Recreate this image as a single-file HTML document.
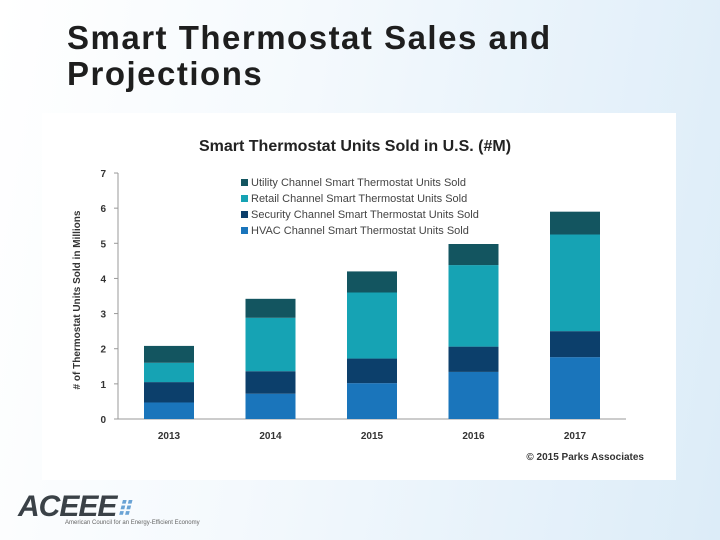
<!DOCTYPE html>
<html><head><meta charset="utf-8"><style>
body{margin:0;width:720px;height:540px;overflow:hidden;font-family:"Liberation Sans",sans-serif;background:linear-gradient(100deg,#ffffff 0%,#f4f9fd 40%,#dcecf8 100%);position:relative}
#title{position:absolute;left:67px;top:20px;font-size:33px;font-weight:bold;line-height:36px;color:#1e1e1e;letter-spacing:1.5px}
#panel{position:absolute;left:42px;top:113px;width:634px;height:367px;background:#fff}
</style></head><body>
<div id="title">Smart Thermostat Sales and<br>Projections</div>
<div id="panel"></div>
<svg id="chart" width="720" height="540" style="position:absolute;left:0;top:0"></svg>
<div style="position:absolute;left:18px;top:490px;font:bold italic 30px 'Liberation Sans',sans-serif;color:#3a4147;letter-spacing:-1px">ACEEE<span style="color:#6aa3d5;font-size:20px">⠿</span></div>
<div style="position:absolute;left:65px;top:520px;font-size:6px;color:#666">American Council for an Energy-Efficient Economy</div>
<script>
const years=["2013","2014","2015","2016","2017"];
const hvac=[0.47,0.72,1.02,1.34,1.76];
const security=[0.58,0.64,0.70,0.72,0.74];
const retail=[0.55,1.52,1.88,2.32,2.75];
const utility=[0.48,0.54,0.60,0.60,0.65];
const yTicks=[0,1,2,3,4,5,6,7];
const seriesNames=["Utility Channel Smart Thermostat Units Sold","Retail Channel Smart Thermostat Units Sold","Security Channel Smart Thermostat Units Sold","HVAC Channel Smart Thermostat Units Sold"];
const NS="http://www.w3.org/2000/svg";
const svg=document.getElementById('chart');
const y0=419,pu=35.14,x0=169,dx=101.5,bw=50;
const Y=v=>y0-v*pu, X=i=>x0+i*dx;
function mk(t,a,p){const e=document.createElementNS(NS,t);for(const k in a)e.setAttribute(k,a[k]);(p||svg).appendChild(e);return e;}
let t=mk('text',{x:355,y:151,'text-anchor':'middle','font-size':'16','font-weight':'bold',fill:'#222'});t.textContent="Smart Thermostat Units Sold in U.S. (#M)";


let ax=mk('line',{x1:118,y1:173,x2:118,y2:y0,stroke:'#999'});


let bx=mk('line',{x1:114,y1:y0,x2:626,y2:y0,stroke:'#999'});


yTicks.forEach(v=>{let tk=mk('text',{x:106,y:Y(v)+4,'text-anchor':'end','font-size':'10','font-weight':'bold',fill:'#333'});tk.textContent=v;


mk('line',{x1:114,y1:Y(v),x2:118,y2:Y(v),stroke:'#999'});});
let yt=mk('text',{transform:'translate(80,300) rotate(-90)','text-anchor':'middle','font-size':'10','font-weight':'bold',fill:'#333'});yt.textContent="# of Thermostat Units Sold in Millions";


const series=[[hvac,'#1a75bb','hvac'],[security,'#0c3f6b','security'],[retail,'#16a3b4','retail'],[utility,'#135560','utility']];
years.forEach((yr,i)=>{let base=0;series.forEach(s=>{const v=s[0][i];let r=mk('rect',{x:X(i)-bw/2,y:Y(base+v),width:bw,height:v*pu,fill:s[1]});


base+=v;});
let l=mk('text',{x:X(i),y:439,'text-anchor':'middle','font-size':'10','font-weight':'bold',fill:'#333'});l.textContent=yr;

});
const lc=['#135560','#16a3b4','#0c3f6b','#1a75bb'];
seriesNames.forEach((n,i)=>{const yy=186+i*16;let g=mk('g',{});


mk('rect',{x:241,y:yy-7,width:7,height:7,fill:lc[i]},g);let tx=mk('text',{x:251,y:yy,'font-size':'11',fill:'#444'},g);tx.textContent=n;});
let c=mk('text',{x:644,y:460,'text-anchor':'end','font-size':'10','font-weight':'bold',fill:'#333'});c.textContent="© 2015 Parks Associates";


</script>
</body></html>
